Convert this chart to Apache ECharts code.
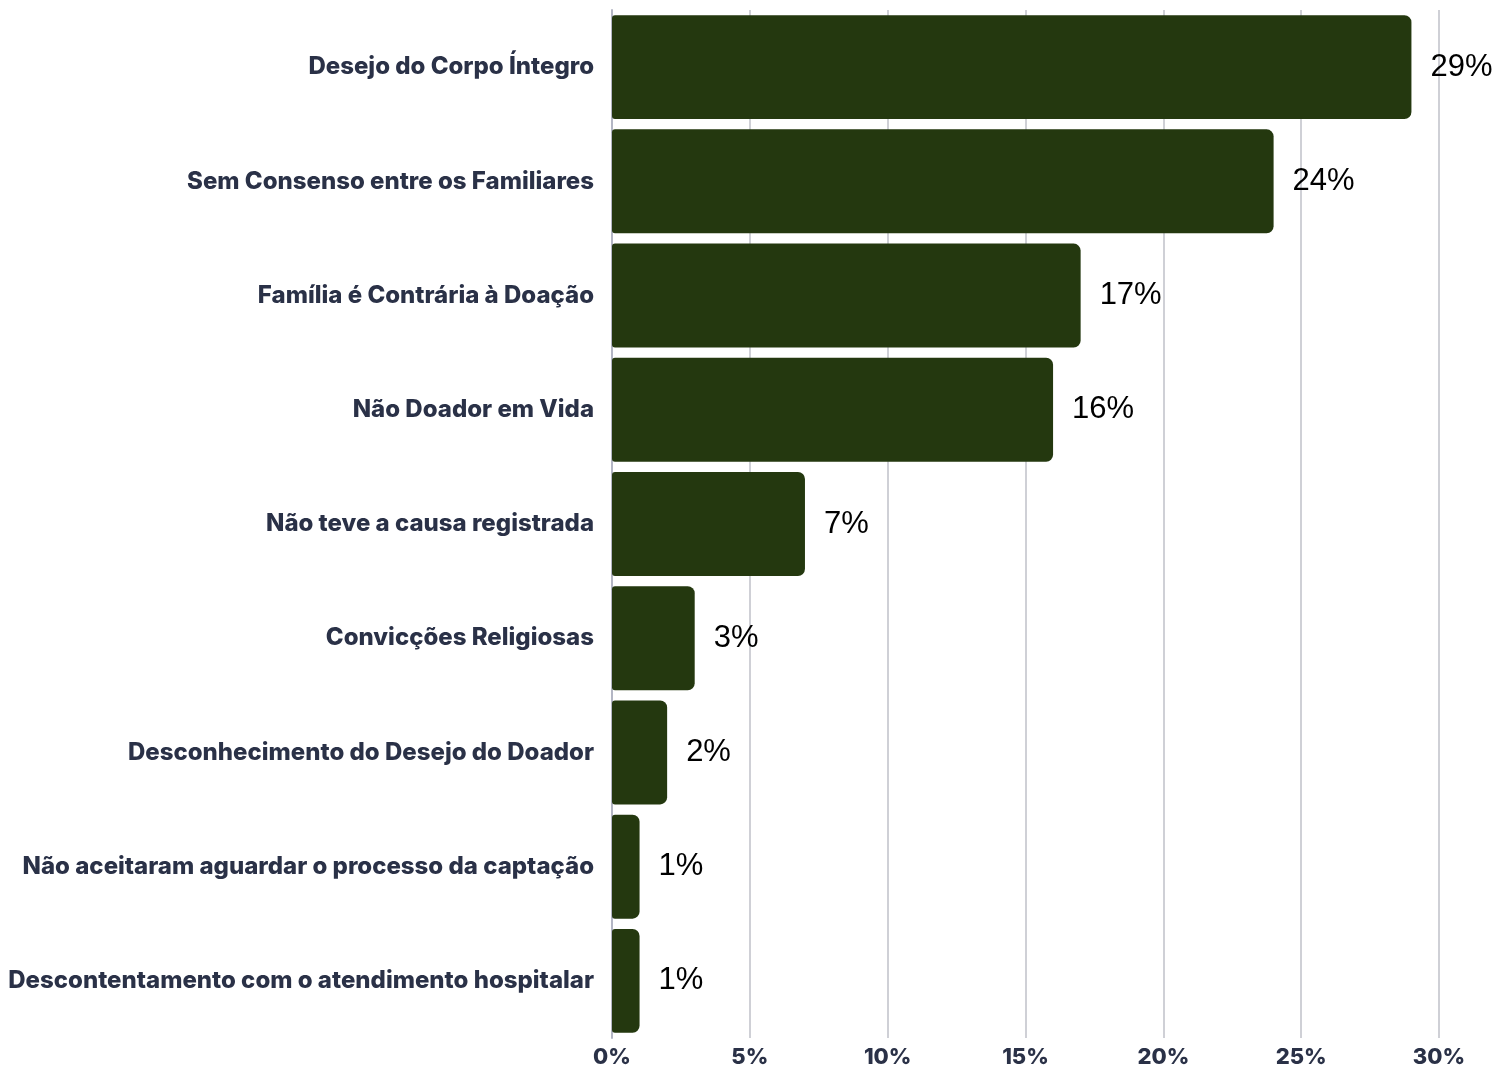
<!DOCTYPE html>
<html><head><meta charset="utf-8">
<script src="https://cdn.jsdelivr.net/npm/echarts@6/dist/echarts.min.js"></script>
<style>html,body{margin:0;padding:0;background:#fff}#c{width:1500px;height:1068px}</style>
</head><body><div id="c"></div>
<script>
const categories = [
  "Desejo do Corpo Íntegro",
  "Sem Consenso entre os Familiares",
  "Família é Contrária à Doação",
  "Não Doador em Vida",
  "Não teve a causa registrada",
  "Convicções Religiosas",
  "Desconhecimento do Desejo do Doador",
  "Não aceitaram aguardar o processo da captação",
  "Descontentamento com o atendimento hospitalar"
];
const values = [29, 24, 17, 16, 7, 3, 2, 1, 1];
const xTicks = [0, 5, 10, 15, 20, 25, 30];

const chart = echarts.init(document.getElementById('c'));
chart.setOption({
  animation: false,
  grid: {left: 612, right: 61, top: 10, bottom: 22, containLabel: false},
  xAxis: {
    type: 'value', min: 0, max: 30, interval: 5,
    axisLine: {show: false}, axisTick: {show: false},
    splitLine: {show: true, lineStyle: {color: '#cfd0d6', width: 2}},
    axisLabel: {formatter: v => xTicks.includes(v) ? v + '%' : '', color: '#2a3147',
      fontFamily: 'Inter', fontWeight: 800, fontSize: 22, margin: 8}
  },
  yAxis: {
    type: 'category', data: categories, inverse: true,
    axisLine: {show: true, lineStyle: {color: '#b3b6c4', width: 2}},
    axisTick: {show: false},
    axisLabel: {color: '#2a3147', fontFamily: 'Inter', fontWeight: 800, fontSize: 24, margin: 18}
  },
  series: [{
    type: 'bar', data: values, barCategoryGap: '9%',
    itemStyle: {color: '#24380f', borderRadius: [3, 7, 7, 3]},
    label: {show: true, position: 'right', distance: 19, formatter: p => p.value + '%',
      color: '#000', fontFamily: 'Liberation Sans', fontSize: 31}
  }]
});
</script></body></html>
